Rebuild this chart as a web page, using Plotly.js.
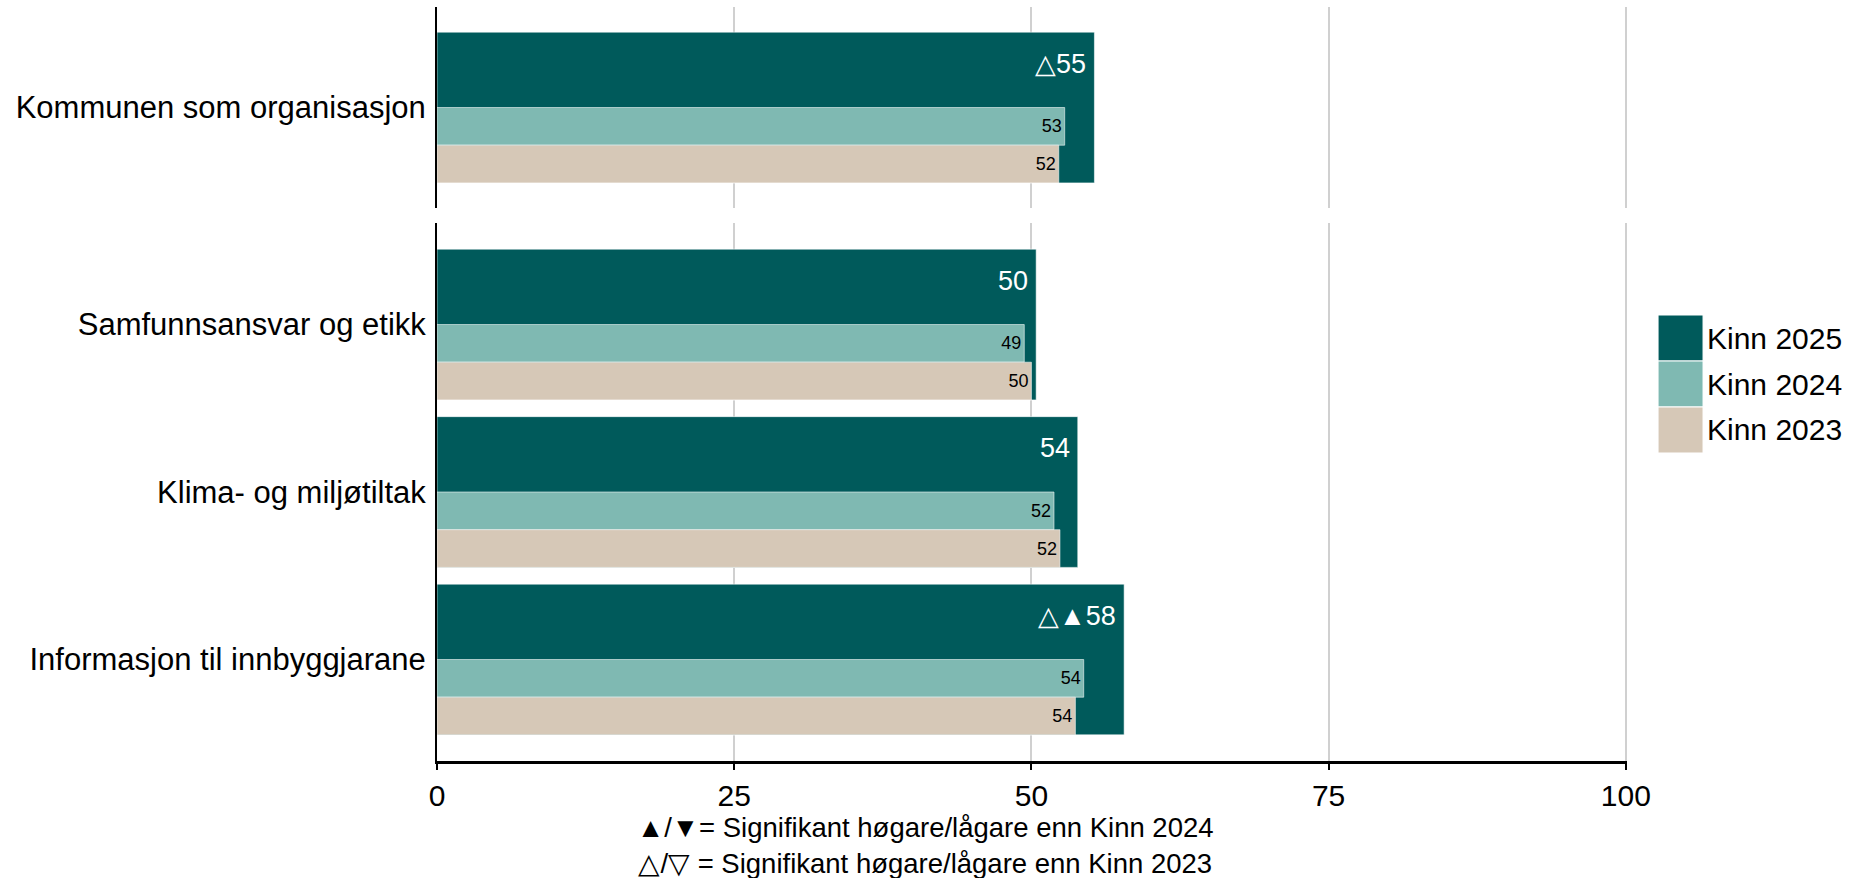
<!DOCTYPE html>
<html>
<head>
<meta charset="utf-8">
<script src="https://cdn.plot.ly/plotly-3.0.1.min.js"></script>
<style>html,body{margin:0;padding:0;background:#fff;}#chart{width:1851px;height:878px;}</style>
</head>
<body>
<div id="chart"></div>
<script>
// ---- data ----
const catsTop = ["Kommunen som organisasjon"];
const catsBottom = ["Samfunnsansvar og etikk", "Klima- og miljøtiltak", "Informasjon til innbyggjarane"];
const seriesNames = ["Kinn 2025", "Kinn 2024", "Kinn 2023"];
const kinn2025Top = [55.3];
const kinn2024Top = [52.8];
const kinn2023Top = [52.3];
const kinn2025Bottom = [50.4, 53.9, 57.8];
const kinn2024Bottom = [49.4, 51.9, 54.4];
const kinn2023Bottom = [50.0, 52.4, 53.7];
const sig2025Top = ["△"];
const sig2025Bottom = ["", "", "△▲"];
const xTicks = [0, 25, 50, 75, 100];
const footnoteLines = ["▲/▼= Signifikant høgare/lågare enn Kinn 2024", "△/▽ = Signifikant høgare/lågare enn Kinn 2023"];

// ---- styles ----
const colors = ["#005a5b", "#7fb9b2", "#d6c8b7"];
const FONT = "Liberation Sans, Arial, Helvetica, sans-serif";

function barTraces(cats, v25, v24, v23, xa, ya) {
  const line = {width: 0.8, color: "rgba(255,255,255,0.7)"};
  return [
    {type: "bar", orientation: "h", name: seriesNames[0], y: cats, x: v25, xaxis: xa, yaxis: ya,
     width: 0.9, offset: -0.45, marker: {color: colors[0], line: line}, hoverinfo: "x", showlegend: false},
    {type: "bar", orientation: "h", name: seriesNames[1], y: cats, x: v24, xaxis: xa, yaxis: ya,
     width: 0.225, offset: 0, marker: {color: colors[1], line: line},
     texttemplate: "%{x:.0f}", textposition: "inside", insidetextanchor: "end", textangle: 0,
     textfont: {size: 18, color: "#000", family: FONT}, constraintext: "none", hoverinfo: "x", showlegend: false},
    {type: "bar", orientation: "h", name: seriesNames[2], y: cats, x: v23, xaxis: xa, yaxis: ya,
     width: 0.225, offset: 0.225, marker: {color: colors[2], line: line},
     texttemplate: "%{x:.0f}", textposition: "inside", insidetextanchor: "end", textangle: 0,
     textfont: {size: 18, color: "#000", family: FONT}, constraintext: "none", hoverinfo: "x", showlegend: false}
  ];
}

const data = [
  ...barTraces(catsTop, kinn2025Top, kinn2024Top, kinn2023Top, "x2", "y2"),
  ...barTraces(catsBottom, kinn2025Bottom, kinn2024Bottom, kinn2023Bottom, "x", "y")
];

const annotations = [];
function addTopLabels(cats, vals, sig, xr, yr) {
  cats.forEach((c, i) => {
    annotations.push({x: vals[i], y: c, xref: xr, yref: yr, text: sig[i] + Math.round(vals[i]),
      showarrow: false, xanchor: "right", yanchor: "middle", xshift: -6, yshift: 44,
      font: {size: 27, color: "#ffffff", family: FONT}});
  });
}
addTopLabels(catsTop, kinn2025Top, sig2025Top, "x2", "y2");
addTopLabels(catsBottom, kinn2025Bottom, sig2025Bottom, "x", "y");

annotations.push({xref: "paper", yref: "paper", x: 0.4104, y: -0.112, xanchor: "center", yanchor: "middle",
  showarrow: false, align: "center", text: footnoteLines.join("<br>"),
  font: {size: 27.5, color: "#000", family: FONT}});

// custom legend
const shapes = [];
const legX0 = 1.0261, legX1 = 1.0639, legTop = 0.5915, legStep = 0.061;
seriesNames.forEach((n, i) => {
  const y1 = legTop - i * legStep, y0 = y1 - legStep;
  shapes.push({type: "rect", xref: "paper", yref: "paper", x0: legX0, x1: legX1, y0: y0, y1: y1,
    fillcolor: colors[i], line: {color: "#ffffff", width: 1}, layer: "above"});
  annotations.push({xref: "paper", yref: "paper", x: legX1 + 0.002, y: (y0 + y1) / 2, xanchor: "left", yanchor: "middle",
    showarrow: false, text: n, font: {size: 30, color: "#000", family: FONT}});
});

const gridStyle = {showgrid: true, gridcolor: "#d0d0d0", gridwidth: 2, zeroline: false};
const layout = {
  width: 1851, height: 878,
  margin: {l: 437, r: 224, t: 7, b: 117},
  paper_bgcolor: "#ffffff", plot_bgcolor: "#ffffff",
  font: {family: FONT, color: "#000"},
  barmode: "overlay",
  showlegend: false,
  xaxis: Object.assign({domain: [0, 1], anchor: "y", range: [0, 100.1], tickvals: xTicks, ticktext: xTicks.map(String),
    showline: true, linecolor: "#000", linewidth: 2.5, ticks: "outside", ticklen: 6, tickwidth: 2, tickcolor: "#000",
    tickfont: {size: 30, family: FONT}}, gridStyle),
  xaxis2: Object.assign({domain: [0, 1], anchor: "y2", range: [0, 100.1], tickvals: xTicks, showticklabels: false,
    showline: false, ticks: ""}, gridStyle),
  yaxis: {domain: [0, 0.7135], anchor: "x", type: "category", range: [2.606, -0.606], showgrid: false, zeroline: false,
    showline: true, linecolor: "#000", linewidth: 2, ticks: "", ticklabelstandoff: 3, tickfont: {size: 31, family: FONT}},
  yaxis2: {domain: [0.7334, 1], anchor: "x2", type: "category", range: [0.6, -0.6], showgrid: false, zeroline: false,
    showline: true, linecolor: "#000", linewidth: 2, ticks: "", ticklabelstandoff: 3, tickfont: {size: 31, family: FONT}},
  annotations: annotations,
  shapes: shapes
};

Plotly.newPlot("chart", data, layout, {displayModeBar: false, staticPlot: true});
</script>
</body>
</html>
